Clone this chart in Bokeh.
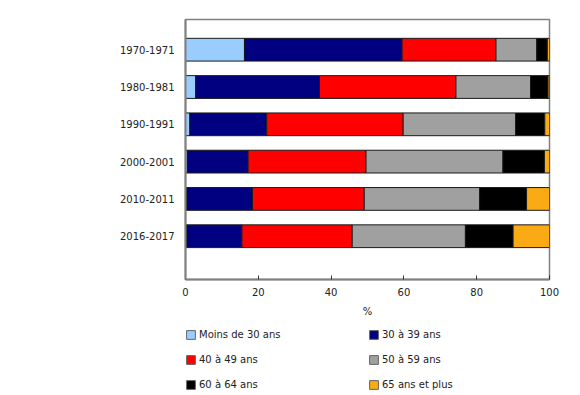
from bokeh.plotting import figure
from bokeh.layouts import column
from bokeh.models import ColumnDataSource, Legend, LegendItem, FixedTicker, Range1d
from bokeh.embed import file_html
from bokeh.resources import INLINE

periods = ["1970-1971", "1980-1981", "1990-1991", "2000-2001", "2010-2011", "2016-2017"]
moins_30 = [16.2, 2.8, 1.2, 0.5, 0.3, 0.3]
a30_39 = [43.3, 34.0, 21.1, 16.7, 18.1, 15.2]
a40_49 = [25.8, 37.5, 37.5, 32.4, 30.7, 30.3]
a50_59 = [11.2, 20.5, 30.9, 37.6, 31.7, 31.1]
a60_64 = [2.9, 4.8, 8.0, 11.4, 12.9, 13.1]
a65_plus = [0.6, 0.4, 1.3, 1.4, 6.3, 10.0]

series_names = ["Moins de 30 ans", "30 à 39 ans", "40 à 49 ans",
                "50 à 59 ans", "60 à 64 ans", "65 ans et plus"]
series_keys = ["m30", "a30", "a40", "a50", "a60", "a65"]
colors = ["#99CCFF", "#000080", "#FF0000", "#A0A0A0", "#000000", "#F9AA14"]
x_ticks = [0, 20, 40, 60, 80, 100]

n = len(periods)
ypos = [n - i for i in range(n)]

source = ColumnDataSource(dict(
    y=ypos, m30=moins_30, a30=a30_39, a40=a40_49,
    a50=a50_59, a60=a60_64, a65=a65_plus,
))

FONT = "DejaVu Sans"
W = 580
FRAME_GRAY = "#808080"

p = figure(width=W, height=325, output_backend="svg", toolbar_location=None,
           x_range=Range1d(0, 100), y_range=Range1d(-0.16, 6.81),
           min_border_left=185, min_border_right=31, min_border_top=19,
           min_border_bottom=46)

p.hbar_stack(series_keys, y="y", height=0.61, color=colors, source=source,
             line_color="#1a1a1a", line_width=1)

p.xgrid.visible = False
p.ygrid.visible = False
p.outline_line_color = FRAME_GRAY
p.outline_line_width = 1.5

xa = p.xaxis[0]
xa.ticker = FixedTicker(ticks=x_ticks)
xa.axis_label = "%"
xa.axis_label_text_font = FONT
xa.axis_label_text_font_size = "10px"
xa.axis_label_text_font_style = "normal"
xa.axis_label_text_color = "#222222"
xa.axis_label_standoff = 7
xa.major_label_text_font = FONT
xa.major_label_text_font_size = "10px"
xa.major_label_text_color = "#222222"
xa.major_label_standoff = 8
xa.axis_line_color = FRAME_GRAY
xa.axis_line_width = 2
xa.major_tick_in = 4
xa.major_tick_out = 0
xa.major_tick_line_color = "#333333"
xa.minor_tick_line_color = None
xa.minor_tick_out = 0
xa.minor_tick_in = 0

ya = p.yaxis[0]
ya.ticker = FixedTicker(ticks=ypos)
ya.major_label_overrides = {y: lab for y, lab in zip(ypos, periods)}
ya.major_label_text_font = FONT
ya.major_label_text_font_size = "10px"
ya.major_label_text_color = "#222222"
ya.major_label_standoff = 11
ya.axis_line_color = FRAME_GRAY
ya.axis_line_width = 2
ya.major_tick_line_color = None
ya.minor_tick_line_color = None
ya.major_tick_out = 0
ya.major_tick_in = 0
ya.minor_tick_out = 0
ya.minor_tick_in = 0

# legend figure below the chart
lf = figure(width=W, height=70, output_backend="svg", toolbar_location=None,
            x_range=Range1d(0, 1), y_range=Range1d(0, 1),
            x_axis_location=None, y_axis_location=None,
            min_border_left=185, min_border_right=31, min_border_top=0,
            min_border_bottom=0)
lf.xgrid.visible = False
lf.ygrid.visible = False
lf.outline_line_color = None

item_map = {}
for name, c in zip(series_names, colors):
    # off-range swatch renderer used only for the legend glyph
    r = lf.rect(x=[-10], y=[-10], width=1, height=1, fill_color=c,
                line_color="#666666", line_width=1)
    item_map[name] = LegendItem(label=name, renderers=[r])

# legend fills column by column: reorder so rows read left to right
order = [0, 2, 4, 1, 3, 5]
items = [item_map[series_names[i]] for i in order]

legend = Legend(items=items, ncols=2, location=(0, 4),
                glyph_width=11, glyph_height=11, label_standoff=3,
                label_width=157, spacing=12, padding=0, margin=0,
                label_text_font=FONT, label_text_font_size="10px",
                label_text_color="#222222", label_height=13,
                border_line_color=None, background_fill_alpha=0)
lf.add_layout(legend, "center")

layout = column(p, lf)
open("out.html", "w").write(file_html(layout, INLINE))
